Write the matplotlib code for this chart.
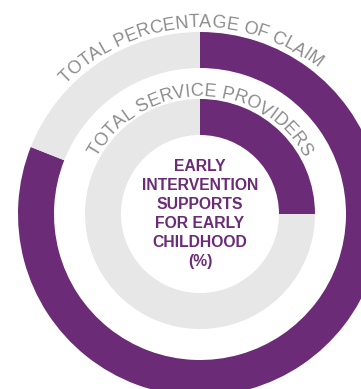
import numpy as np
import matplotlib
matplotlib.use("Agg")
import matplotlib.pyplot as plt
from matplotlib.font_manager import FontProperties, findfont
from matplotlib.ft2font import FT2Font

# data
outer_values = [81, 19]   # total percentage of claim
inner_values = [25, 75]   # total service providers
outer_label = "TOTAL PERCENTAGE OF CLAIM"
inner_label = "TOTAL SERVICE PROVIDERS"
center_label = "EARLY\nINTERVENTION\nSUPPORTS\nFOR EARLY\nCHILDHOOD\n(%)"

PURPLE = '#6b2b77'
LIGHT = '#e7e7e7'
TEXT_GREY = '#8c8c8c'

W, H, DPI = 361, 389, 100
cx, cy = 200, H - 214


def curved_text(ax, text, radius, center_angle, size, color):
    # place each letter along the arc, reading clockwise over the top
    prop = FontProperties(family='Liberation Sans', size=size)
    font = FT2Font(findfont(prop))
    font.set_size(size, DPI)
    adv = [font.load_char(ord(c)).linearHoriAdvance / 65536 for c in text]
    total = sum(adv)
    start = np.deg2rad(center_angle) + (total / 2) / radius
    pos = 0
    for c, a in zip(text, adv):
        ang = start - (pos + a / 2) / radius
        x = cx + radius * np.cos(ang)
        y = cy + radius * np.sin(ang)
        ax.text(x, y, c, fontproperties=prop, color=color, ha='center', va='baseline',
                rotation=np.rad2deg(ang) - 90, rotation_mode='anchor')
        pos += a


fig = plt.figure(figsize=(W / DPI, H / DPI), dpi=DPI)
ax = fig.add_axes([0, 0, 1, 1])

ax.pie(outer_values, colors=[PURPLE, LIGHT], radius=182, center=(cx, cy),
       startangle=90, counterclock=False, wedgeprops=dict(width=36, linewidth=0))
ax.pie(inner_values, colors=[PURPLE, LIGHT], radius=115, center=(cx, cy),
       startangle=90, counterclock=False, wedgeprops=dict(width=36, linewidth=0))

curved_text(ax, outer_label, 187, 93.5, 13, TEXT_GREY)
curved_text(ax, inner_label, 118, 90, 13, TEXT_GREY)

ax.text(cx, cy, center_label, ha='center', va='center', color=PURPLE,
        fontsize=11.3, fontweight='bold', family='Liberation Sans', linespacing=1.32)

ax.set_xlim(0, W)
ax.set_ylim(0, H)
ax.set_aspect('equal')
ax.axis('off')

fig.savefig('out.png', dpi=DPI)
